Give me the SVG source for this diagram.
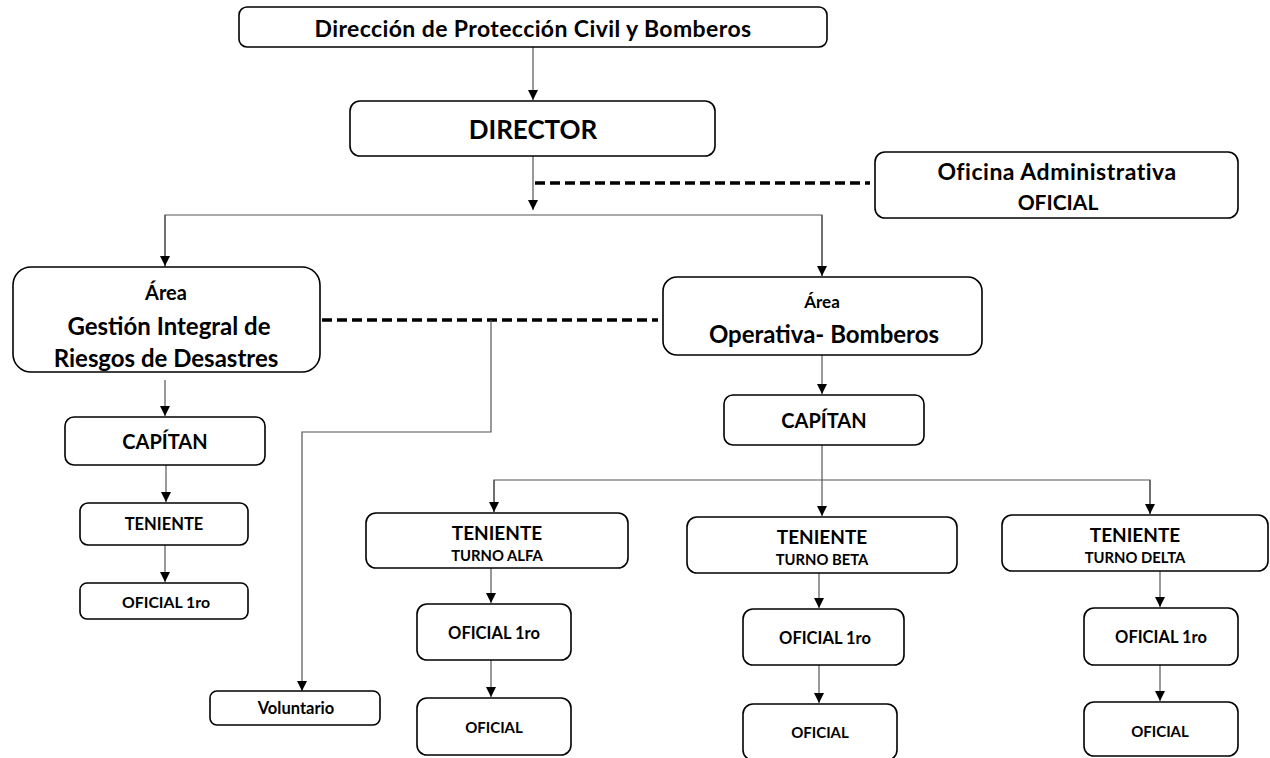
<svg xmlns="http://www.w3.org/2000/svg" width="1270" height="758" viewBox="0 0 1270 758">
<style>
.box{fill:#fff;stroke:#000;stroke-width:1.6}
.t{font-family:Lato,"Liberation Sans",sans-serif;font-weight:700;fill:#000;text-anchor:middle;dominant-baseline:central}
.c{fill:none;stroke:#555;stroke-width:1.2}
.d{fill:none;stroke:#000;stroke-width:3.5;stroke-dasharray:10 5}
</style>
<defs>
<marker id="a" viewBox="0 0 10 10" refX="10" refY="5" markerWidth="10" markerHeight="10" markerUnits="userSpaceOnUse" orient="auto">
<path d="M0,0 L10,5 L0,10 Z" fill="#000"/>
</marker>
</defs>
<rect width="1270" height="758" fill="#fff"/>
<g id="connectors">
<line class="c" x1="533" y1="47" x2="533" y2="100" marker-end="url(#a)"/>
<line class="c" x1="533" y1="156" x2="533" y2="210" marker-end="url(#a)"/>
<line class="d" x1="535" y1="183" x2="870" y2="183"/>
<polyline class="c" points="165,267 165,215 822,215 822,276"/>
<line class="c" x1="165" y1="215" x2="165" y2="266" marker-end="url(#a)"/>
<line class="c" x1="822" y1="215" x2="822" y2="276" marker-end="url(#a)"/>
<line class="d" x1="322" y1="320" x2="658" y2="320"/>
<polyline class="c" points="491,320 491,432 302,432 302,691" marker-end="url(#a)"/>
<line class="c" x1="165" y1="380" x2="165" y2="416" marker-end="url(#a)"/>
<line class="c" x1="166" y1="465" x2="166" y2="502" marker-end="url(#a)"/>
<line class="c" x1="165" y1="545" x2="165" y2="582" marker-end="url(#a)"/>
<line class="c" x1="822" y1="355" x2="822" y2="394" marker-end="url(#a)"/>
<polyline class="c" points="494,512 494,480 1150,480 1150,514"/>
<line class="c" x1="822" y1="445" x2="822" y2="516" marker-end="url(#a)"/>
<line class="c" x1="494" y1="480" x2="494" y2="512" marker-end="url(#a)"/>
<line class="c" x1="1150" y1="480" x2="1150" y2="514" marker-end="url(#a)"/>
<line class="c" x1="491" y1="568" x2="491" y2="603" marker-end="url(#a)"/>
<line class="c" x1="491" y1="660" x2="491" y2="697" marker-end="url(#a)"/>
<line class="c" x1="819" y1="573" x2="819" y2="608" marker-end="url(#a)"/>
<line class="c" x1="819" y1="665" x2="819" y2="703" marker-end="url(#a)"/>
<line class="c" x1="1160" y1="571" x2="1160" y2="607" marker-end="url(#a)"/>
<line class="c" x1="1160" y1="665" x2="1160" y2="701" marker-end="url(#a)"/>
</g>
<g id="n-direccion"><rect class="box" x="239" y="7" width="588" height="40" rx="8"/><text class="t" x="533" y="28" font-size="23" letter-spacing="0.4">Dirección de Protección Civil y Bomberos</text></g>
<g id="n-director"><rect class="box" x="350" y="101" width="365" height="55" rx="10"/><text class="t" x="533" y="129" font-size="26">DIRECTOR</text></g>
<g id="n-oficina"><rect class="box" x="875" y="152" width="363" height="66" rx="10"/><text class="t" x="1057" y="171" font-size="23" letter-spacing="0.5">Oficina Administrativa</text><text class="t" x="1058" y="201" font-size="21">OFICIAL</text></g>
<g id="n-gir"><rect class="box" x="13" y="267" width="307" height="105" rx="18"/><text class="t" x="166" y="292" font-size="20">Área</text><text class="t" x="169" y="325" font-size="24">Gestión Integral de</text><text class="t" x="166" y="357" font-size="24">Riesgos de Desastres</text></g>
<g id="n-operativa"><rect class="box" x="663" y="277" width="319" height="78" rx="14"/><text class="t" x="822" y="301" font-size="17">Área</text><text class="t" x="824" y="333" font-size="24">Operativa- Bomberos</text></g>
<g id="n-capitan-l"><rect class="box" x="65" y="417" width="200" height="48" rx="9"/><text class="t" x="165" y="441" font-size="20">CAPÍTAN</text></g>
<g id="n-teniente-l"><rect class="box" x="80" y="503" width="168" height="42" rx="8"/><text class="t" x="164" y="524" font-size="16.5">TENIENTE</text></g>
<g id="n-oficial1-l"><rect class="box" x="80" y="583" width="168" height="36" rx="7"/><text class="t" x="166" y="601" font-size="15.8">OFICIAL 1ro</text></g>
<g id="n-voluntario"><rect class="box" x="210" y="691" width="170" height="34" rx="7"/><text class="t" x="296" y="708" font-size="16.5">Voluntario</text></g>
<g id="n-capitan-r"><rect class="box" x="724" y="395" width="200" height="50" rx="9"/><text class="t" x="824" y="420" font-size="20">CAPÍTAN</text></g>
<g id="n-ten-alfa"><rect class="box" x="366" y="513" width="262" height="55" rx="10"/><text class="t" x="497" y="532" font-size="19">TENIENTE</text><text class="t" x="497" y="555" font-size="14.8">TURNO ALFA</text></g>
<g id="n-of1-alfa"><rect class="box" x="417" y="604" width="154" height="56" rx="10"/><text class="t" x="494" y="633" font-size="16.5">OFICIAL 1ro</text></g>
<g id="n-of-alfa"><rect class="box" x="417" y="698" width="154" height="57" rx="10"/><text class="t" x="494" y="727" font-size="15">OFICIAL</text></g>
<g id="n-ten-beta"><rect class="box" x="687" y="517" width="270" height="56" rx="10"/><text class="t" x="822" y="536" font-size="19">TENIENTE</text><text class="t" x="822" y="559" font-size="14.8">TURNO BETA</text></g>
<g id="n-of1-beta"><rect class="box" x="743" y="609" width="161" height="56" rx="10"/><text class="t" x="825" y="638" font-size="16.5">OFICIAL 1ro</text></g>
<g id="n-of-beta"><rect class="box" x="743" y="704" width="154" height="56" rx="10"/><text class="t" x="820" y="732" font-size="15">OFICIAL</text></g>
<g id="n-ten-delta"><rect class="box" x="1002" y="515" width="266" height="56" rx="10"/><text class="t" x="1135" y="534" font-size="19">TENIENTE</text><text class="t" x="1135" y="557" font-size="14.8">TURNO DELTA</text></g>
<g id="n-of1-delta"><rect class="box" x="1084" y="608" width="154" height="57" rx="10"/><text class="t" x="1161" y="637" font-size="16.5">OFICIAL 1ro</text></g>
<g id="n-of-delta"><rect class="box" x="1084" y="702" width="154" height="54" rx="10"/><text class="t" x="1160" y="731" font-size="15">OFICIAL</text></g>
</svg>
